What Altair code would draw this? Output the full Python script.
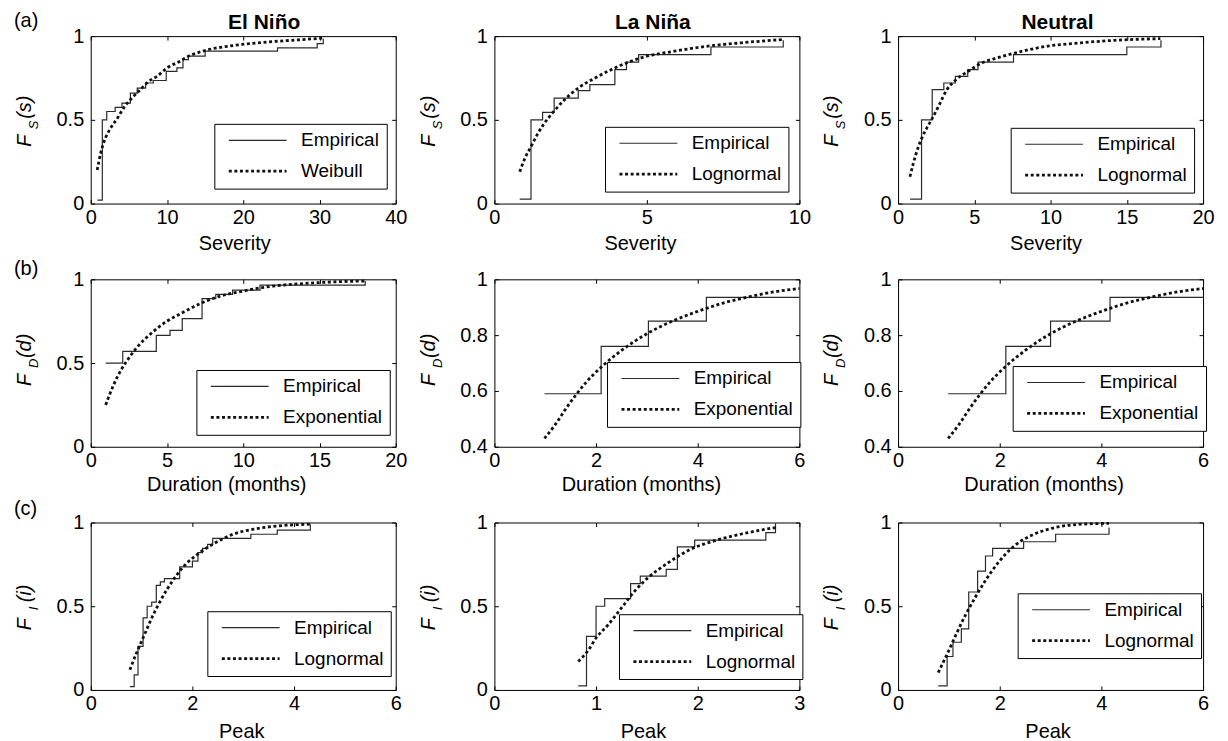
import altair as alt
import pandas as pd

FONT = "Liberation Sans"

# ---------------- (a) Severity ----------------
sev_elnino_emp_x = [0.87, 1.52, 2.1, 3.2, 4.1, 5.2, 6.1, 7.2, 8.2, 9.9, 11.3, 12.1, 12.8, 15.0, 24.5, 29.7, 30.5]
sev_elnino_emp_y = [0.02, 0.50, 0.55, 0.575, 0.60, 0.66, 0.69, 0.72, 0.735, 0.79, 0.81, 0.86, 0.88, 0.91, 0.93, 0.955, 0.985]
sev_elnino_fit_x = [0.85, 1.3, 1.75, 2.6, 3.5, 4.3, 5.4, 6.5, 7.6, 8.7, 10, 11.7, 12.6, 14.3, 18.7, 23, 27.3, 30.5]
sev_elnino_fit_y = [0.20, 0.30, 0.37, 0.45, 0.51, 0.57, 0.63, 0.68, 0.73, 0.76, 0.81, 0.85, 0.875, 0.905, 0.944, 0.964, 0.978, 0.988]

sev_lanina_emp_x = [0.83, 1.2, 1.58, 1.96, 2.75, 3.13, 3.95, 4.33, 4.73, 7.1, 9.47]
sev_lanina_emp_y = [0.026, 0.50, 0.545, 0.63, 0.675, 0.71, 0.80, 0.845, 0.89, 0.935, 0.975]
sev_lanina_fit_x = [0.83, 1.0, 1.2, 1.4, 1.6, 1.9, 2.3, 2.75, 3.3, 3.95, 4.8, 5.9, 7.0, 8.1, 9.47]
sev_lanina_fit_y = [0.19, 0.27, 0.34, 0.41, 0.47, 0.54, 0.62, 0.69, 0.75, 0.81, 0.87, 0.91, 0.94, 0.96, 0.98]

sev_neutral_emp_x = [0.78, 1.54, 2.24, 3.0, 3.76, 4.57, 5.24, 7.57, 15.0, 17.24]
sev_neutral_emp_y = [0.026, 0.50, 0.68, 0.72, 0.76, 0.80, 0.845, 0.89, 0.935, 0.975]
sev_neutral_fit_x = [0.78, 1.0, 1.3, 1.6, 2.0, 2.25, 2.7, 3.2, 3.8, 4.6, 5.5, 6.5, 7.7, 9.8, 12, 14.2, 17.2]
sev_neutral_fit_y = [0.16, 0.24, 0.33, 0.40, 0.47, 0.51, 0.59, 0.68, 0.74, 0.79, 0.84, 0.87, 0.90, 0.94, 0.96, 0.975, 0.985]

# ---------------- (b) Duration ----------------
dur_elnino_emp_x = [0.98, 2.1, 4.3, 5.2, 6.0, 7.3, 8.2, 9.3, 11.1, 18.0]
dur_elnino_emp_y = [0.50, 0.57, 0.665, 0.695, 0.765, 0.885, 0.91, 0.935, 0.965, 0.99]
dur_elnino_fit_x = [0.98, 1.5, 2.0, 2.5, 3.0, 4.0, 5.0, 6.0, 7.3, 8.5, 10, 12, 14, 16, 18]
dur_elnino_fit_y = [0.25, 0.37, 0.46, 0.53, 0.59, 0.68, 0.75, 0.80, 0.86, 0.90, 0.93, 0.96, 0.975, 0.985, 0.99]

dur_lanina_emp_x = [0.985, 2.1, 3.03, 4.17, 6.0]
dur_lanina_emp_y = [0.59, 0.76, 0.85, 0.935, 0.935]
dur_lanina_fit_x = [0.985, 1.2, 1.4, 1.6, 1.8, 2.1, 2.5, 3.0, 3.5, 4.0, 4.5, 5.0, 5.5, 6.0]
dur_lanina_fit_y = [0.43, 0.48, 0.535, 0.585, 0.63, 0.685, 0.745, 0.805, 0.85, 0.885, 0.915, 0.937, 0.955, 0.967]

dur_neutral_emp_x = [0.985, 2.12, 3.0, 4.17, 6.0]
dur_neutral_emp_y = [0.59, 0.76, 0.85, 0.935, 0.935]
dur_neutral_fit_x = [0.985, 1.2, 1.4, 1.6, 1.8, 2.1, 2.5, 3.0, 3.5, 4.0, 4.5, 5.0, 5.5, 6.0]
dur_neutral_fit_y = [0.43, 0.48, 0.535, 0.585, 0.63, 0.685, 0.745, 0.805, 0.85, 0.885, 0.915, 0.937, 0.955, 0.967]

# ---------------- (c) Peak ----------------
peak_elnino_emp_x = [0.77, 0.855, 0.93, 1.03, 1.11, 1.20, 1.29, 1.37, 1.45, 1.75, 2.0, 2.11, 2.2, 2.3, 2.4, 3.15, 3.67, 4.32]
peak_elnino_emp_y = [0.02, 0.09, 0.26, 0.43, 0.50, 0.525, 0.625, 0.645, 0.665, 0.735, 0.77, 0.82, 0.845, 0.87, 0.905, 0.93, 0.955, 0.99]
peak_elnino_fit_x = [0.77, 0.9, 1.0, 1.1, 1.2, 1.35, 1.5, 1.7, 1.9, 2.1, 2.4, 2.8, 3.2, 3.7, 4.32]
peak_elnino_fit_y = [0.12, 0.22, 0.29, 0.36, 0.43, 0.52, 0.60, 0.69, 0.76, 0.81, 0.87, 0.93, 0.96, 0.98, 0.99]

peak_lanina_emp_x = [0.825, 0.906, 1.0, 1.085, 1.34, 1.435, 1.69, 1.80, 1.97, 2.67, 2.765]
peak_lanina_emp_y = [0.025, 0.32, 0.50, 0.545, 0.635, 0.68, 0.72, 0.855, 0.895, 0.94, 0.995]
peak_lanina_fit_x = [0.825, 0.92, 1.0, 1.12, 1.25, 1.38, 1.51, 1.71, 1.93, 2.16, 2.42, 2.765]
peak_lanina_fit_y = [0.17, 0.234, 0.31, 0.39, 0.49, 0.59, 0.67, 0.76, 0.84, 0.89, 0.93, 0.97]

peak_neutral_emp_x = [0.79, 0.965, 1.08, 1.245, 1.39, 1.565, 1.72, 1.86, 2.47, 3.1, 4.15]
peak_neutral_emp_y = [0.025, 0.2, 0.285, 0.365, 0.585, 0.71, 0.80, 0.845, 0.885, 0.93, 0.97]
peak_neutral_fit_x = [0.79, 0.965, 1.13, 1.32, 1.52, 1.72, 1.98, 2.3, 2.63, 3.09, 3.6, 4.15]
peak_neutral_fit_y = [0.104, 0.214, 0.324, 0.444, 0.554, 0.654, 0.764, 0.864, 0.924, 0.97, 0.99, 0.995]

# labels / titles
col_titles = ["El Niño", "La Niña", "Neutral"]
row_labels = ["(a)", "(b)", "(c)"]
x_titles = ["Severity", "Duration (months)", "Peak"]
y_sub = ["S", "D", "I"]
y_par = ["(s)", "(d)", "(i)"]

W, H = 306, 168
F_Y = [111, 107, 108]
SUB_Y = [93.5, 89, 88]
PAR_Y = [83, 79, 80]
ROW_LABEL_Y = [-9, -4, -8]
TITLE_Y = [50, 48, 52]
COL_DX = [21, 6, 7]
XT_DX = [[-9, -7, -5], [-17, -6, -7], [-2, -4, -3]]
LEGEND_POS = [[(124, 88), (111, 91), (113, 92)],
              [(106, 91), (113, 83), (115, 87)],
              [(117, 89), (125, 92), (120, 71)]]

one = pd.DataFrame({"a": [0]})


def text_layer(txt, x, y, size=20, style="normal", weight="normal", angle=0, align="left"):
    return alt.Chart(one).mark_text(
        text=txt, font=FONT, fontSize=size, fontStyle=style, fontWeight=weight,
        angle=angle, align=align, baseline="alphabetic", color="black"
    ).encode(x=alt.value(x), y=alt.value(y))


def make_panel(r, c, ex, ey, fx, fy, fname, xdom, xticks, ydom, yticks):
    emp = pd.DataFrame({"x": ex, "y": ey, "s": ["Empirical"] * len(ex)})
    fit = pd.DataFrame({"x": fx, "y": fy, "s": [fname] * len(fx)})
    dom = ["Empirical", fname]
    lx, ly = LEGEND_POS[r][c]
    lg = alt.Legend(title=None, orient="none", legendX=lx, legendY=ly)
    color = alt.Color("s:N", scale=alt.Scale(domain=dom, range=["#2a2a2a", "#111111"]), legend=lg)
    dash = alt.StrokeDash("s:N", scale=alt.Scale(domain=dom, range=[[1, 0], [3, 2.6]]), legend=lg)
    sw = alt.StrokeWidth("s:N", scale=alt.Scale(type="ordinal", domain=dom, range=[1.2, 2.8]), legend=lg)
    xs = alt.Scale(domain=xdom, nice=False, zero=False)
    ys = alt.Scale(domain=ydom, nice=False, zero=False)

    l1 = alt.Chart(emp).mark_line(interpolate="step-after", strokeCap="butt").encode(
        x=alt.X("x:Q", scale=xs, axis=alt.Axis(
            orient="bottom", values=xticks, format="~r", offset=-4, labelPadding=4,
            title=x_titles[r], titleX=W / 2 + XT_DX[r][c], titleY=TITLE_Y[r],
            titleBaseline="alphabetic", titleAlign="center")),
        y=alt.Y("y:Q", scale=ys, axis=alt.Axis(
            orient="left", values=yticks, format="~r", offset=-4, labelPadding=7, title=None)),
        color=color, strokeDash=dash, strokeWidth=sw,
    )
    l2 = alt.Chart(fit).mark_line(interpolate="monotone", strokeCap="butt").encode(
        x=alt.X("x:Q", scale=xs, axis=alt.Axis(
            orient="top", values=xticks, offset=-4, labels=False, title=None)),
        y=alt.Y("y:Q", scale=ys, axis=alt.Axis(
            orient="right", values=yticks, offset=-4, labels=False, title=None)),
        color=color, strokeDash=dash, strokeWidth=sw,
    )
    layers = [l1, l2,
              text_layer("F", -60, F_Y[r], 20, "italic", angle=270),
              text_layer(y_sub[r], -53, SUB_Y[r], 13, "italic", angle=270),
              text_layer(y_par[r], -60, PAR_Y[r], 20, "italic", angle=270)]
    if r == 0:
        layers.append(text_layer(col_titles[c], W / 2 + COL_DX[c], -7.5, 21, weight="bold", align="center"))
    if c == 0:
        layers.append(text_layer(row_labels[r], -77, ROW_LABEL_Y[r], 20))
    return alt.layer(*layers).resolve_axis(x="independent", y="independent").properties(width=W, height=H)


panels = [
    make_panel(0, 0, sev_elnino_emp_x, sev_elnino_emp_y, sev_elnino_fit_x, sev_elnino_fit_y, "Weibull",
               [0, 40], [0, 10, 20, 30, 40], [0, 1], [0, 0.5, 1]),
    make_panel(0, 1, sev_lanina_emp_x, sev_lanina_emp_y, sev_lanina_fit_x, sev_lanina_fit_y, "Lognormal",
               [0, 10], [0, 5, 10], [0, 1], [0, 0.5, 1]),
    make_panel(0, 2, sev_neutral_emp_x, sev_neutral_emp_y, sev_neutral_fit_x, sev_neutral_fit_y, "Lognormal",
               [0, 20], [0, 5, 10, 15, 20], [0, 1], [0, 0.5, 1]),
    make_panel(1, 0, dur_elnino_emp_x, dur_elnino_emp_y, dur_elnino_fit_x, dur_elnino_fit_y, "Exponential",
               [0, 20], [0, 5, 10, 15, 20], [0, 1], [0, 0.5, 1]),
    make_panel(1, 1, dur_lanina_emp_x, dur_lanina_emp_y, dur_lanina_fit_x, dur_lanina_fit_y, "Exponential",
               [0, 6], [0, 2, 4, 6], [0.4, 1], [0.4, 0.6, 0.8, 1]),
    make_panel(1, 2, dur_neutral_emp_x, dur_neutral_emp_y, dur_neutral_fit_x, dur_neutral_fit_y, "Exponential",
               [0, 6], [0, 2, 4, 6], [0.4, 1], [0.4, 0.6, 0.8, 1]),
    make_panel(2, 0, peak_elnino_emp_x, peak_elnino_emp_y, peak_elnino_fit_x, peak_elnino_fit_y, "Lognormal",
               [0, 6], [0, 2, 4, 6], [0, 1], [0, 0.5, 1]),
    make_panel(2, 1, peak_lanina_emp_x, peak_lanina_emp_y, peak_lanina_fit_x, peak_lanina_fit_y, "Lognormal",
               [0, 3], [0, 1, 2, 3], [0, 1], [0, 0.5, 1]),
    make_panel(2, 2, peak_neutral_emp_x, peak_neutral_emp_y, peak_neutral_fit_x, peak_neutral_fit_y, "Lognormal",
               [0, 6], [0, 2, 4, 6], [0, 1], [0, 0.5, 1]),
]

chart = alt.concat(
    *panels, columns=3, spacing={"row": 76, "column": 99}, bounds="flush"
).resolve_scale(
    color="independent", strokeDash="independent", strokeWidth="independent"
).configure(
    padding={"left": 5, "top": 1, "right": 5, "bottom": 0}, background="white"
).configure_view(
    stroke="black", strokeWidth=1
).configure_axis(
    domain=False, grid=False, tickColor="black", tickSize=4, tickWidth=1,
    labelFont=FONT, labelFontSize=20, labelColor="black", labelFlush=False, labelOverlap=False,
    titleFont=FONT, titleFontSize=20, titleFontWeight="normal", titleColor="black"
).configure_legend(
    labelFont=FONT, labelFontSize=19, labelColor="black", labelLimit=400,
    strokeColor="black", fillColor="white", padding=7, cornerRadius=0,
    symbolType="stroke", symbolSize=3364, clipHeight=19, rowPadding=11,
    labelOffset=13, symbolOffset=6
)

chart.save("out.html", embed_options={"renderer": "svg", "actions": False})
